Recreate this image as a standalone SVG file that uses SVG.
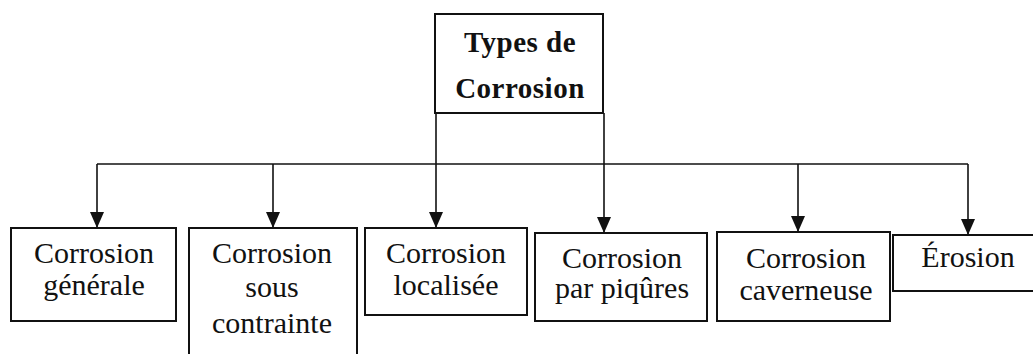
<svg xmlns="http://www.w3.org/2000/svg" width="1033" height="354" viewBox="0 0 1033 354">
  <style>
    .box { fill: #fff; stroke: #111; stroke-width: 2; }
    .lbl { font-family: "Liberation Serif", "Times New Roman", serif; font-size: 30px; fill: #111; text-anchor: middle; }
    .title { font-family: "Liberation Serif", "Times New Roman", serif; font-size: 29px; font-weight: bold; fill: #111; text-anchor: middle; letter-spacing: 0.5px; }
    .wire { fill: none; stroke: #111; stroke-width: 1.6; }
  </style>
  <defs>
    <marker id="arrow" viewBox="0 0 16 14" refX="16" refY="7" markerWidth="16" markerHeight="14" markerUnits="userSpaceOnUse" orient="auto">
      <path d="M0,0 L16,7 L0,14 Z" fill="#111"/>
    </marker>
  </defs>
  <rect width="1033" height="354" fill="#fff"/>

  <g id="connectors">
    <polyline class="wire" points="97,164 968,164"/>
    <line class="wire" x1="97" y1="164" x2="97" y2="228" marker-end="url(#arrow)"/>
    <line class="wire" x1="273" y1="164" x2="273" y2="228" marker-end="url(#arrow)"/>
    <line class="wire" x1="436" y1="113" x2="436" y2="228" marker-end="url(#arrow)"/>
    <line class="wire" x1="604" y1="113" x2="604" y2="233" marker-end="url(#arrow)"/>
    <line class="wire" x1="798" y1="164" x2="798" y2="232" marker-end="url(#arrow)"/>
    <line class="wire" x1="968" y1="164" x2="968" y2="235" marker-end="url(#arrow)"/>
  </g>

  <g id="types-de-corrosion">
    <rect class="box" x="435" y="14" width="168" height="99"/>
    <text class="title" x="520" y="52">Types de</text>
    <text class="title" x="520" y="98">Corrosion</text>
  </g>

  <g id="corrosion-generale">
    <rect class="box" x="11" y="228" width="165" height="93"/>
    <text class="lbl" x="94" y="263">Corrosion</text>
    <text class="lbl" x="94" y="295">générale</text>
  </g>

  <g id="corrosion-sous-contrainte">
    <rect class="box" x="189" y="228" width="168" height="130"/>
    <text class="lbl" x="272" y="263">Corrosion</text>
    <text class="lbl" x="272" y="297">sous</text>
    <text class="lbl" x="272" y="333">contrainte</text>
  </g>

  <g id="corrosion-localisee">
    <rect class="box" x="365" y="228" width="162" height="87"/>
    <text class="lbl" x="446" y="263">Corrosion</text>
    <text class="lbl" x="446" y="295">localisée</text>
  </g>

  <g id="corrosion-par-piqures">
    <rect class="box" x="535" y="233" width="172" height="88"/>
    <text class="lbl" x="622" y="268">Corrosion</text>
    <text class="lbl" x="622" y="298">par piqûres</text>
  </g>

  <g id="corrosion-caverneuse">
    <rect class="box" x="717" y="232" width="173" height="89"/>
    <text class="lbl" x="806" y="268">Corrosion</text>
    <text class="lbl" x="806" y="300">caverneuse</text>
  </g>

  <g id="erosion">
    <rect class="box" x="893" y="235" width="145" height="56"/>
    <text class="lbl" x="968" y="267">Érosion</text>
  </g>
</svg>
